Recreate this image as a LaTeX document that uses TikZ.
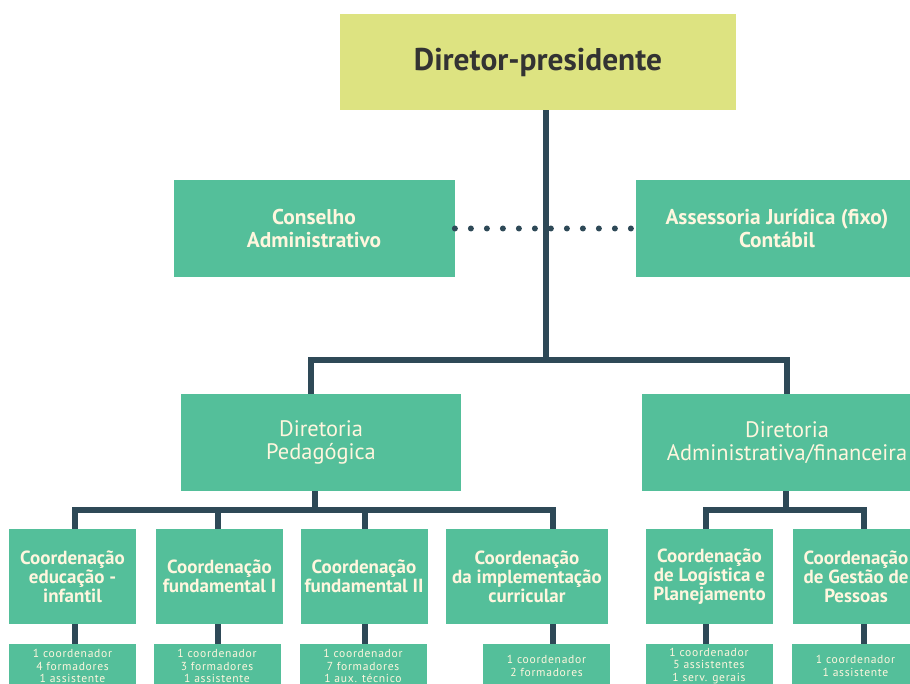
\documentclass[tikz,border=0pt]{standalone}
\usepackage{fontspec}
\setmainfont{PT Sans}
\usepackage{tikz}
\usetikzlibrary{positioning}

\definecolor{teal}{HTML}{54BF9A}
\definecolor{lime}{HTML}{DDE381}
\definecolor{slate}{HTML}{2E4957}
\definecolor{cream}{HTML}{FFF6DE}
\definecolor{ink}{HTML}{333333}

\tikzset{
  unit/.style={fill=teal, text=cream, align=center, inner sep=0pt},
  headbox/.style={unit, font=\fontsize{11.2}{11.5}\selectfont, minimum height=48.5pt},
  coordbox/.style={unit, font=\fontsize{9.5}{9.6}\selectfont\bfseries, minimum width=63.5pt, minimum height=47.5pt},
  staffbox/.style={unit, font=\fontsize{5.8}{6.3}\selectfont\addfontfeatures{LetterSpace=6}, minimum width=63.5pt, minimum height=22pt},
  link/.style={draw=slate, line width=2.75pt, line join=miter},
  dotline/.style={draw=slate, line width=3pt, line cap=round, dash pattern=on 0pt off 8pt}
}

\begin{document}
\begin{tikzpicture}[x=0.5pt, y=-0.5pt]
	\useasboundingbox (0,0) rectangle (910,684);
	% top
	\node[unit, fill=lime, text=ink, font=\fontsize{15.7}{17}\selectfont\bfseries, minimum width=198pt, minimum height=48pt] (dp) at (538,62) {Diretor-presidente};
	\node[headbox, font=\fontsize{10.7}{11.5}\selectfont\bfseries, minimum width=140.5pt] (cons) at (314,228.5) {Conselho\\Administrativo};
	\node[headbox, font=\fontsize{10.7}{11.5}\selectfont\bfseries, minimum width=141pt] (ass) at (777,228.5) {Assessoria Jurídica (fixo)\\Contábil};
	\node[headbox, minimum width=140pt] (dped) at (321,442.5) {Diretoria\\Pedagógica};
	\node[headbox, minimum width=145pt] (dadm) at (787,442.5) {Diretoria\\Administrativa/financeira};
	% coordenacoes
	\node[coordbox] (c1) at (72.5,576.5) {Coordenação\\educação -\\infantil};
	\node[coordbox] (c2) at (219.5,576.5) {Coordenação\\fundamental I};
	\node[coordbox] (c3) at (364,576.5) {Coordenação\\fundamental II};
	\node[coordbox, minimum width=81pt] (c4) at (527,576.5) {Coordenação\\da implementação\\curricular};
	\node[coordbox] (c5) at (709.5,576.5) {Coordenação\\de Logística e\\Planejamento};
	\node[coordbox] (c6) at (856,576.5) {Coordenação\\de Gestão de\\Pessoas};
	% equipes
	\node[staffbox] (s1) at (72.5,666) {1 coordenador\\4 formadores\\1 assistente};
	\node[staffbox] (s2) at (217,666) {1 coordenador\\3 formadores\\1 assistente};
	\node[staffbox] (s3) at (363,666) {1 coordenador\\7 formadores\\1 aux. técnico};
	\node[staffbox] (s4) at (546.5,666) {1 coordenador\\2 formadores};
	\node[staffbox] (s5) at (709,666) {1 coordenador\\5 assistentes\\1 serv. gerais};
	\node[staffbox] (s6) at (855.5,666) {1 coordenador\\1 assistente};
	% junctions
	\coordinate (t0) at (546,360);
	\coordinate (tl) at (311,360);
	\coordinate (tr) at (787,360);
	\coordinate (p0) at (315,510);
	\coordinate (p1) at (75,510);
	\coordinate (p2) at (218,510);
	\coordinate (p3) at (365,510);
	\coordinate (p4) at (553,510);
	\coordinate (a0) at (786,510);
	\coordinate (a1) at (706,510);
	\coordinate (a2) at (864,510);
	% links
	\draw[dotline] (cons.east) -- (ass.west);
	\draw[link] (dp.south -| t0) -- (t0);
	\draw[link] (dped.north -| tl) -- (tl) -- (tr) -- (dadm.north -| tr);
	\draw[link] (dped.south -| p0) -- (p0);
	\draw[link] (c1.north -| p1) -- (p1) -- (p4) -- (c4.north -| p4);
	\draw[link] (c2.north -| p2) -- (p2);
	\draw[link] (c3.north -| p3) -- (p3);
	\draw[link] (dadm.south -| a0) -- (a0);
	\draw[link] (c5.north -| a1) -- (a1) -- (a2) -- (c6.north -| a2);
	\foreach \i/\k in {1/p1,2/p2,3/p3,4/p4,5/a1,6/a2}
		\draw[link] (c\i.south -| \k) -- (s\i.north -| \k);
\end{tikzpicture}
\end{document}
